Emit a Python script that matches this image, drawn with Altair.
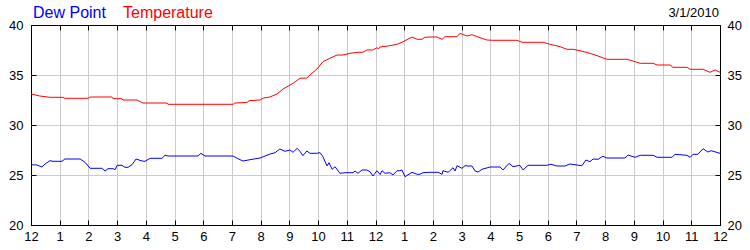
import altair as alt
import pandas as pd

# ---- data ----
temp_hours = [0.00, 0.31, 0.66, 1.11, 1.18, 1.99, 2.06, 2.82, 2.86, 3.17, 3.20, 3.69, 3.90, 4.74,
              4.77, 7.04, 7.10, 7.52, 7.60, 7.98, 8.10, 8.32, 8.57, 8.78, 9.13, 9.37, 9.61, 9.72,
              9.96, 10.17, 10.41, 10.66, 10.87, 11.11, 11.36, 11.56, 11.70, 11.91, 12.05, 12.10,
              12.16, 12.50, 12.75, 12.96, 13.27, 13.45, 13.62, 13.72, 13.90, 14.14, 14.32, 14.42,
              14.84, 14.94, 15.19, 15.36, 15.64, 15.88, 16.09, 16.93, 17.10, 17.83, 18.08, 18.43,
              18.67, 18.88, 19.12, 19.47, 19.82, 20.06, 20.76, 20.97, 21.22, 21.67, 21.81, 22.26,
              22.36, 22.85, 22.96, 23.41, 23.65, 23.83, 24.00]
temp_vals = [33.1, 32.9, 32.77, 32.77, 32.67, 32.67, 32.8, 32.8, 32.63, 32.63, 32.5, 32.5, 32.2, 32.2,
             32.07, 32.07, 32.2, 32.25, 32.43, 32.5, 32.7, 32.8, 33.1, 33.6, 34.17, 34.67, 34.7, 35.0,
             35.6, 36.33, 36.67, 37.0, 37.0, 37.17, 37.27, 37.27, 37.5, 37.5, 37.73, 37.6,
             37.8, 37.93, 38.07, 38.33, 38.8, 38.57, 38.57, 38.77, 38.8, 38.8, 38.57, 38.83,
             38.83, 39.17, 38.9, 39.03, 38.73, 38.5, 38.47, 38.47, 38.27, 38.27, 38.07, 37.83,
             37.57, 37.57, 37.43, 37.17, 36.83, 36.57, 36.57, 36.4, 36.17, 36.17, 36.0, 36.0,
             35.77, 35.77, 35.57, 35.57, 35.27, 35.5, 35.27]

dew_hours = [0.00, 0.21, 0.38, 0.49, 0.66, 0.77, 1.08, 1.18, 1.71, 1.88, 2.06, 2.47, 2.58, 2.68,
             2.86, 2.93, 3.00, 3.17, 3.27, 3.38, 3.52, 3.66, 3.87, 3.97, 4.15, 4.56, 4.67, 4.77,
             5.82, 5.92, 6.06, 7.04, 7.18, 7.38, 7.63, 7.98, 8.15, 8.33, 8.50, 8.67, 8.85, 9.02,
             9.13, 9.27, 9.37, 9.47, 9.61, 9.72, 9.96, 10.07, 10.17, 10.31, 10.38, 10.49, 10.59,
             10.76, 10.94, 11.22, 11.29, 11.39, 11.53, 11.70, 11.81, 11.91, 12.05, 12.16, 12.23,
             12.33, 12.50, 12.61, 12.75, 12.85, 12.92, 13.03, 13.27, 13.45, 13.55, 13.65, 13.90,
             14.18, 14.32, 14.35, 14.53, 14.70, 14.77, 14.84, 15.01, 15.12, 15.22, 15.36, 15.47,
             15.57, 15.71, 15.99, 16.34, 16.44, 16.65, 16.79, 17.03, 17.14, 17.31, 17.97, 18.11,
             18.32, 18.60, 18.77, 19.02, 19.19, 19.33, 19.47, 19.58, 19.75, 19.92, 20.06, 20.69,
             20.80, 21.04, 21.22, 21.67, 21.81, 22.33, 22.43, 22.85, 22.96, 23.06, 23.23, 23.41,
             23.58, 23.69, 24.00]
dew_vals = [26.03, 26.0, 25.8, 26.1, 26.43, 26.37, 26.37, 26.6, 26.6, 26.27, 25.67, 25.67, 25.4, 25.63,
            25.63, 25.53, 25.97, 25.97, 25.77, 25.77, 26.03, 26.6, 26.4, 26.37, 26.67, 26.67, 26.97, 26.9,
            26.9, 27.17, 26.9, 26.9, 26.67, 26.4, 26.53, 26.7, 26.9, 27.1, 27.23, 27.6, 27.37, 27.5,
            27.27, 27.67, 27.37, 26.93, 27.4, 27.17, 27.17, 27.23, 26.83, 25.9, 26.23, 25.57, 25.83,
            25.17, 25.23, 25.23, 25.4, 25.17, 25.5, 25.5, 25.33, 24.9, 25.43, 25.05, 25.43,
            25.17, 25.23, 25.0, 25.43, 25.43, 25.5, 24.83, 25.27, 25.07, 25.07, 25.23, 25.27,
            25.27, 25.07, 25.43, 25.27, 25.73, 25.4, 25.93, 25.67, 25.93, 25.9, 25.9, 25.4,
            25.3, 25.57, 25.8, 25.8, 25.5, 26.17, 25.83, 25.97, 25.5, 25.97, 25.97, 26.07,
            25.9, 25.9, 26.1, 26.0, 25.93, 26.5, 26.33, 26.6, 26.57, 26.87, 26.7, 26.7,
            27.0, 26.77, 26.97, 26.97, 26.77, 26.77, 27.07, 26.97, 26.77, 27.07, 27.07, 27.63,
            27.3, 27.43, 27.17]

hour_ticks = list(range(0, 25))
y_ticks = [20, 25, 30, 35, 40]
series_names = ["Dew Point", "Temperature"]
series_colors = ["#0000ff", "#ff0000"]
date_label = "3/1/2010"

FONT = "Liberation Sans"
GRID = "#cccccc"

temp_df = pd.DataFrame({"h": temp_hours, "v": temp_vals})
dew_df = pd.DataFrame({"h": dew_hours, "v": dew_vals})

xscale = alt.Scale(domain=[0, 24], nice=False, zero=False)
yscale = alt.Scale(domain=[20, 40], nice=False, zero=False)
label_expr = "datum.value % 12 == 0 ? '12' : '' + (datum.value % 12)"

common = dict(domain=False, tickColor="black", tickSize=5, tickWidth=1, offset=-5,
              labelFont=FONT, labelFontSize=13, labelColor="black", title=None)

temp_line = alt.Chart(temp_df).mark_line(color=series_colors[1], strokeWidth=1).encode(
    x=alt.X("h:Q", scale=xscale, axis=alt.Axis(
        orient="bottom", values=hour_ticks, labelExpr=label_expr, grid=True,
        gridColor=alt.condition("datum.value % 24 == 0", alt.value("black"), alt.value(GRID)),
        labelPadding=5, labelFlush=False, labelOverlap=False, **common)),
    y=alt.Y("v:Q", scale=yscale, axis=alt.Axis(
        orient="left", values=y_ticks, grid=True,
        gridColor=alt.condition("datum.value == 20 || datum.value == 40", alt.value("black"), alt.value(GRID)),
        labelPadding=8, labelFlush=False, **common)),
)

dew_line = alt.Chart(dew_df).mark_line(color=series_colors[0], strokeWidth=1).encode(
    x=alt.X("h:Q", scale=xscale, axis=alt.Axis(
        orient="top", values=hour_ticks, labels=False, grid=False, **common)),
    y=alt.Y("v:Q", scale=yscale, axis=alt.Axis(
        orient="right", values=y_ticks, grid=False, labelPadding=7, labelFlush=False, **common)),
)

legend_dew = alt.Chart(pd.DataFrame({"t": [series_names[0]]})).mark_text(
    align="left", baseline="alphabetic", font=FONT, fontSize=16, color=series_colors[0]
).encode(text="t:N", x=alt.value(2), y=alt.value(-7))

legend_temp = alt.Chart(pd.DataFrame({"t": [series_names[1]]})).mark_text(
    align="left", baseline="alphabetic", font=FONT, fontSize=16, color=series_colors[1]
).encode(text="t:N", x=alt.value(92), y=alt.value(-7))

date_text = alt.Chart(pd.DataFrame({"t": [date_label]})).mark_text(
    align="right", baseline="alphabetic", font=FONT, fontSize=13, color="black"
).encode(text="t:N", x=alt.value(688), y=alt.value(-8))

chart = alt.layer(temp_line, dew_line, legend_dew, legend_temp, date_text).resolve_scale(
    x="independent", y="independent"
).properties(
    width=689, height=200,
    padding={"left": 31, "top": 25, "right": 30, "bottom": 25},
    autosize=alt.AutoSizeParams(type="none"),
    background="white",
).configure_view(stroke="black", strokeWidth=1)

chart.save("out.html", embed_options={"renderer": "svg", "actions": False})
